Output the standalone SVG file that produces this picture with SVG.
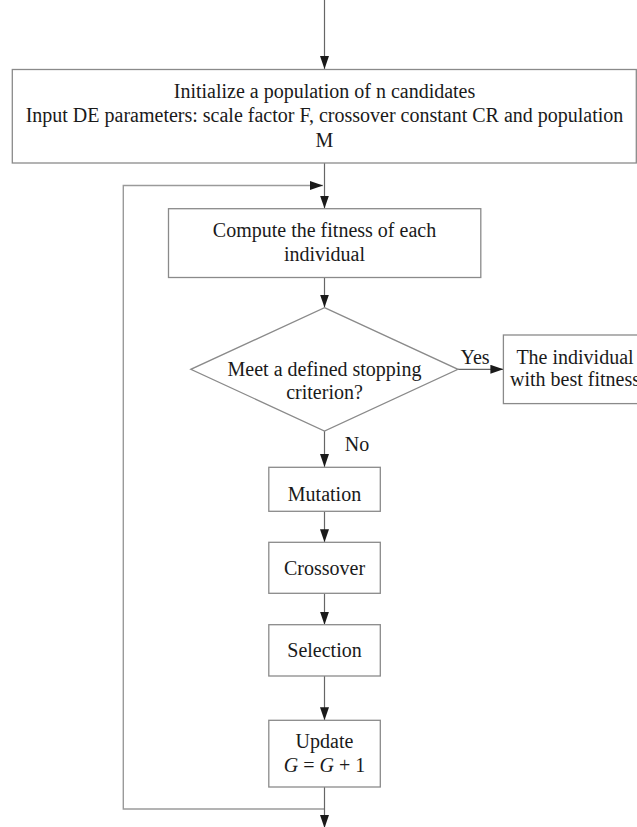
<svg xmlns="http://www.w3.org/2000/svg" width="637" height="827" viewBox="0 0 637 827">
<defs>
<marker id="ah" markerUnits="userSpaceOnUse" markerWidth="14" markerHeight="10" refX="13" refY="4.5" orient="auto">
<path d="M0,0 L13,4.5 L0,9 Z" fill="#1a1a1a"/>
</marker>
<style>
.box{fill:#fff;stroke:#8a8a8a;stroke-width:1.3}
.t{font-family:"Liberation Serif","Times New Roman",serif;font-size:20px;fill:#1a1a1a;text-anchor:middle}
.c{fill:none;stroke:#666;stroke-width:1.2}
.lp{fill:none;stroke:#9a9a9a;stroke-width:1.4}
</style>
</defs>
<rect width="637" height="827" fill="#fff"/>
<g id="connectors">
<line class="c" x1="324.5" y1="0" x2="324.5" y2="69" marker-end="url(#ah)"/>
<line class="c" x1="324.5" y1="163" x2="324.5" y2="208.5" marker-end="url(#ah)"/>
<polyline class="lp" points="324.5,809 123.3,809 123.3,185.5 323,185.5" marker-end="url(#ah)"/>
<line class="c" x1="324.5" y1="787" x2="324.5" y2="828" marker-end="url(#ah)"/>
<line class="c" x1="324.5" y1="277.5" x2="324.5" y2="307.5" marker-end="url(#ah)"/>
<line class="c" x1="324.5" y1="431" x2="324.5" y2="467" marker-end="url(#ah)"/>
<line class="c" x1="324.5" y1="511.3" x2="324.5" y2="542.3" marker-end="url(#ah)"/>
<line class="c" x1="324.5" y1="593.3" x2="324.5" y2="624.7" marker-end="url(#ah)"/>
<line class="c" x1="324.5" y1="676" x2="324.5" y2="720.3" marker-end="url(#ah)"/>
<line class="c" x1="458" y1="369.3" x2="503.4" y2="369.3" marker-end="url(#ah)"/>
<text class="t" x="475" y="363.5">Yes</text>
<text class="t" x="357" y="450.8">No</text>
</g>
<g id="init">
<rect class="box" x="12.3" y="69.5" width="624" height="93.5"/>
<text class="t" x="324.5" y="98">Initialize a population of n candidates</text>
<text class="t" x="324.5" y="122">Input DE parameters: scale factor F, crossover constant CR and population</text>
<text class="t" x="324.5" y="147">M</text>
</g>
<g id="fitness">
<rect class="box" x="168.5" y="208.7" width="312.3" height="68.8"/>
<text class="t" x="324.5" y="236.8">Compute the fitness of each</text>
<text class="t" x="324.5" y="260.8">individual</text>
</g>
<g id="decision">
<polygon class="box" points="324.5,307.7 458,369.3 324.5,431 190.8,369.3"/>
<text class="t" x="324.5" y="375.5">Meet a defined stopping</text>
<text class="t" x="324.5" y="398.8">criterion?</text>
</g>
<g id="best">
<rect class="box" x="503.4" y="335" width="150" height="68.6"/>
<text class="t" x="575" y="363.5">The individual</text>
<text class="t" x="575" y="386.4">with best fitness</text>
</g>
<g id="mutation">
<rect class="box" x="268.8" y="467.3" width="111.5" height="44"/>
<text class="t" x="324.5" y="500.5">Mutation</text>
</g>
<g id="crossover">
<rect class="box" x="268.8" y="542.3" width="111.5" height="51"/>
<text class="t" x="324.5" y="575">Crossover</text>
</g>
<g id="selection">
<rect class="box" x="268.8" y="624.7" width="111.5" height="51.3"/>
<text class="t" x="324.5" y="656.7">Selection</text>
</g>
<g id="update">
<rect class="box" x="268.8" y="720.3" width="111.5" height="66.7"/>
<text class="t" x="324.5" y="748">Update</text>
<text class="t" x="324.5" y="771.7"><tspan font-style="italic">G</tspan> = <tspan font-style="italic">G</tspan> + 1</text>
</g>
</svg>
